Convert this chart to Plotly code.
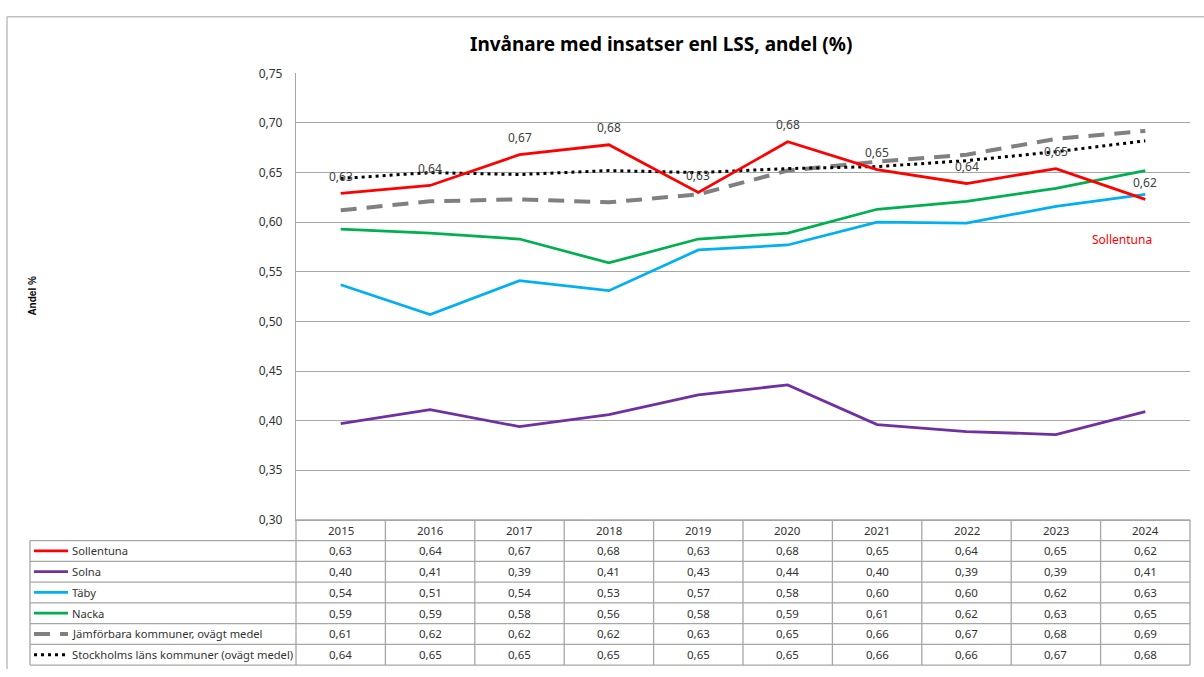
import plotly.graph_objects as go

# ---------------- data ----------------
years = ["2015", "2016", "2017", "2018", "2019", "2020", "2021", "2022", "2023", "2024"]
series_names = [
    "Sollentuna",
    "Solna",
    "Täby",
    "Nacka",
    "Jämförbara kommuner, ovägt medel",
    "Stockholms läns kommuner (ovägt medel)",
]
sollentuna = [0.629, 0.637, 0.668, 0.678, 0.630, 0.681, 0.653, 0.639, 0.654, 0.623]
solna = [0.397, 0.411, 0.394, 0.406, 0.426, 0.436, 0.396, 0.389, 0.386, 0.409]
taby = [0.537, 0.507, 0.541, 0.531, 0.572, 0.577, 0.600, 0.599, 0.616, 0.628]
nacka = [0.593, 0.589, 0.583, 0.559, 0.583, 0.589, 0.613, 0.621, 0.634, 0.652]
jamforbara = [0.612, 0.621, 0.623, 0.620, 0.628, 0.652, 0.661, 0.668, 0.684, 0.692]
stockholm = [0.644, 0.650, 0.648, 0.652, 0.650, 0.654, 0.656, 0.662, 0.671, 0.682]
series_values = [sollentuna, solna, taby, nacka, jamforbara, stockholm]

# ---------------- styles ----------------
styles = [
    dict(color="#ff0000", width=2.75, dash="solid"),
    dict(color="#7030a0", width=2.75, dash="solid"),
    dict(color="#00b0f0", width=2.75, dash="solid"),
    dict(color="#00b050", width=2.75, dash="solid"),
    dict(color="#808080", width=4, dash="16px,10px"),
    dict(color="#000000", width=3, dash="3px,4px"),
]
W, H = 1204, 677
FONT = "Noto Sans, Open Sans, sans-serif"
TXT = "#333333"
GRID = "#a6a6a6"


def px(x):
    return x / W


def py(y):
    return 1 - y / H


plot_left, plot_right, plot_top, plot_bottom = 296, 1190, 66, 524
table_left = 30
n_rows = len(series_names) + 1
row_h = (673 - plot_bottom) / n_rows
col_w = (plot_right - plot_left) / len(years)

fig = go.Figure()
draw_order = [4, 5, 1, 2, 3, 0]
for i in draw_order:
    s = styles[i]
    fig.add_trace(go.Scatter(
        x=years, y=series_values[i], mode="lines", name=series_names[i],
        line=dict(color=s["color"], width=s["width"], dash=s["dash"]),
        hoverinfo="x+y+name",
    ))

annotations = []
shapes = []


def fmt(v):
    return f"{v:.2f}".replace(".", ",")


# data labels for Sollentuna
for ci, v in enumerate(sollentuna):
    annotations.append(dict(
        x=ci, y=v, xref="x", yref="y", text=fmt(v), xanchor="center", yanchor="middle",
        showarrow=False, yshift=17, font=dict(family=FONT, size=12, color="#404040"),
    ))

# series label
annotations.append(dict(
    x=px(1122), y=py(236), xref="paper", yref="paper", text="Sollentuna",
    xanchor="center", yanchor="middle",
    showarrow=False, font=dict(family=FONT, size=12, color="#ff0000"),
))

# title
annotations.append(dict(
    x=px(661), y=py(36), xref="paper", yref="paper",
    text="<b>Invånare med insatser enl LSS, andel (%)</b>", showarrow=False,
    xanchor="center", yanchor="middle",
    font=dict(family="Liberation Sans Narrow, Noto Sans, sans-serif", size=19, color="#000000"),
))

# y-axis title
annotations.append(dict(
    x=px(33), y=py(294), xref="paper", yref="paper", text="<b>Andel %</b>",
    xanchor="center", yanchor="middle",
    textangle=-90, showarrow=False,
    font=dict(family="Liberation Sans, Arial, sans-serif", size=10, color="#000000"),
))


# ---------- data table ----------
def row_center(r):
    return plot_bottom + row_h * (r + 0.5)


for ci, yr in enumerate(years):
    annotations.append(dict(
        x=ci, y=py(row_center(0)), xref="x", yref="paper", text=yr, showarrow=False,
        xanchor="center", yanchor="middle",
        font=dict(family=FONT, size=11.5, color=TXT),
    ))
for r, (name, vals) in enumerate(zip(series_names, series_values), start=1):
    for ci, v in enumerate(vals):
        annotations.append(dict(
            x=ci, y=py(row_center(r)), xref="x", yref="paper",
            text=fmt(v), showarrow=False, xanchor="center", yanchor="middle",
            font=dict(family=FONT, size=11.5, color=TXT),
        ))
    annotations.append(dict(
        x=px(70), y=py(row_center(r)), xref="paper", yref="paper", xanchor="left",
        yanchor="middle",
        text=name, showarrow=False, font=dict(family=FONT, size=11.2, color=TXT),
    ))
    s = styles[r - 1]
    shapes.append(dict(
        type="line", xref="paper", yref="paper",
        x0=px(34), x1=px(68), y0=py(row_center(r)), y1=py(row_center(r)),
        line=dict(color=s["color"], width=s["width"], dash=s["dash"]),
    ))

line_style = dict(color=GRID, width=1.3)
# horizontal lines
for r in range(n_rows + 1):
    y = plot_bottom + r * row_h
    x0 = plot_left if r == 0 else table_left
    shapes.append(dict(type="line", xref="paper", yref="paper",
                       x0=px(x0), x1=px(plot_right), y0=py(y), y1=py(y), line=line_style))
# vertical lines
shapes.append(dict(type="line", xref="paper", yref="paper",
                   x0=px(table_left), x1=px(table_left),
                   y0=py(plot_bottom + row_h), y1=py(plot_bottom + n_rows * row_h), line=line_style))
for k in range(len(years) + 1):
    x = plot_left + k * col_w
    shapes.append(dict(type="line", xref="paper", yref="paper",
                       x0=px(x), x1=px(x), y0=py(plot_bottom),
                       y1=py(plot_bottom + n_rows * row_h), line=line_style))

# outer chart border
shapes.append(dict(type="line", xref="paper", yref="paper", x0=px(7), x1=1, y0=py(8), y1=py(8),
                   line=dict(color="#bfbfbf", width=1.5)))
shapes.append(dict(type="line", xref="paper", yref="paper", x0=px(7), x1=px(7), y0=py(8), y1=0,
                   line=dict(color="#bfbfbf", width=1.5)))

fig.update_layout(
    width=W, height=H, autosize=False,
    margin=dict(l=0, r=0, t=0, b=0),
    paper_bgcolor="white", plot_bgcolor="white",
    showlegend=False, separators=", ",
    xaxis=dict(domain=[px(plot_left), px(plot_right)], type="category",
               range=[-0.5, len(years) - 0.5], showgrid=False, showticklabels=False,
               showline=True, linecolor=GRID, linewidth=1.3, zeroline=False, fixedrange=True),
    yaxis=dict(domain=[py(plot_bottom), py(plot_top)], range=[0.30, 0.75],
               dtick=0.05, tick0=0.30, tickformat=".2f", showgrid=True, gridcolor=GRID,
               gridwidth=1.3, showline=True, linecolor=GRID, linewidth=1.3, zeroline=False,
               ticks="", ticklabelstandoff=10,
               tickfont=dict(family=FONT, size=12, color=TXT), fixedrange=True),
    annotations=annotations,
    shapes=shapes,
)

fig.write_html(
    "out.html",
    config={"displayModeBar": False},
    post_script="document.body.style.margin='0';document.body.style.overflow='hidden';",
)
